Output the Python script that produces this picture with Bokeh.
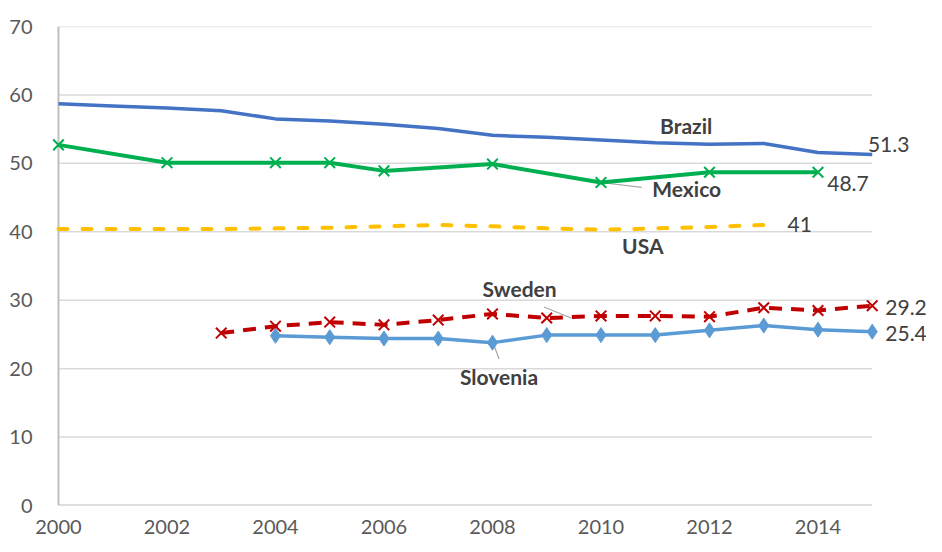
from bokeh.plotting import figure
from bokeh.models import Range1d, FixedTicker, Label
from bokeh.embed import file_html
from bokeh.resources import INLINE

# ---- data ----
brazil_years = list(range(2000, 2016))
brazil = [58.7, 58.4, 58.1, 57.7, 56.5, 56.2, 55.7, 55.1, 54.1, 53.8, 53.4, 53.0, 52.8, 52.9, 51.6, 51.3]

mexico_years = [2000, 2002, 2004, 2005, 2006, 2008, 2010, 2012, 2014]
mexico = [52.7, 50.1, 50.1, 50.1, 48.9, 49.9, 47.2, 48.7, 48.7]

usa_years = list(range(2000, 2014))
usa = [40.4, 40.4, 40.4, 40.4, 40.5, 40.6, 40.8, 41.0, 40.8, 40.5, 40.3, 40.5, 40.7, 41.0]

sweden_years = list(range(2003, 2016))
sweden = [25.2, 26.2, 26.8, 26.4, 27.1, 28.0, 27.4, 27.7, 27.7, 27.6, 28.9, 28.5, 29.2]

slovenia_years = list(range(2004, 2016))
slovenia = [24.8, 24.6, 24.4, 24.4, 23.8, 24.9, 24.9, 24.9, 25.6, 26.3, 25.7, 25.4]

x_ticks = [2000, 2002, 2004, 2006, 2008, 2010, 2012, 2014]
y_ticks = [0, 10, 20, 30, 40, 50, 60, 70]
x_first, x_last = 2000, 2015

# series name labels (x year, y value)
name_labels = ["Brazil", "Mexico", "USA", "Sweden", "Slovenia"]
name_x = [2011.57, 2011.58, 2010.77, 2008.5, 2008.12]
name_y = [55.5, 46.3, 38.0, 31.7, 18.9]

# value labels
value_labels = ["51.3", "48.7", "41", "29.2", "25.4"]
value_x = [2014.92, 2014.17, 2013.44, 2015.24, 2015.24]
value_y = [52.8, 47.1, 41.0, 28.9, 25.2]

# leader lines (from point to label)
lead_x0 = [2010.0, 2008.95, 2008.02]
lead_y0 = [47.2, 29.0, 23.6]
lead_x1 = [2010.75, 2009.45, 2008.12]
lead_y1 = [46.5, 27.4, 21.4]

p = figure(width=926, height=536, output_backend="svg", toolbar_location=None,
           x_range=Range1d(1999.853, 2016.0), y_range=Range1d(0, 70),
           min_border_left=50, min_border_right=0, min_border_top=26, min_border_bottom=30)
p.outline_line_color = None
p.background_fill_color = "white"
p.border_fill_color = "white"

p.xgrid.grid_line_color = None
p.ygrid.grid_line_color = None

p.xaxis.ticker = FixedTicker(ticks=x_ticks)
p.yaxis.ticker = FixedTicker(ticks=y_ticks)
for ax in (p.xaxis, p.yaxis):
    ax.major_tick_line_color = None
    ax.minor_tick_line_color = None
    ax.axis_line_color = None
    ax.major_label_text_font = "Lato"
    ax.major_label_text_font_size = "20px"
    ax.major_label_text_color = "#595959"
p.xaxis.major_label_standoff = 8
p.yaxis.major_label_standoff = 12

# gridlines and axis lines spanning the data extent
p.segment(x0=x_first, x1=x_last, y0=y_ticks[1:], y1=y_ticks[1:], line_color="#d9d9d9", line_width=1.5)
p.segment(x0=[x_first, x_first], x1=[x_last, x_first], y0=[0, 0], y1=[0, y_ticks[-1]],
          line_color="#bfbfbf", line_width=2)

# leader lines
p.segment(x0=lead_x0, y0=lead_y0, x1=lead_x1, y1=lead_y1, line_color="#a6a6a6", line_width=1.2)

# series
p.line(usa_years, usa, line_color="#ffc000", line_width=4, line_dash="9 15", line_cap="round")
p.line(brazil_years, brazil, line_color="#4472c4", line_width=3.5)
p.line(mexico_years, mexico, line_color="#00b050", line_width=4)
p.scatter(mexico_years, mexico, marker="x", size=15, line_color="#00b050", line_width=2)
p.line(slovenia_years, slovenia, line_color="#5b9bd5", line_width=3.5)
p.scatter(slovenia_years, slovenia, marker="diamond", size=15, fill_color="#5b9bd5", line_color="#5b9bd5")
p.line(sweden_years, sweden, line_color="#c00000", line_width=4, line_dash="13 9")
p.scatter(sweden_years, sweden, marker="x", size=15, line_color="#c00000", line_width=2)

for t, x, y in zip(name_labels, name_x, name_y):
    p.add_layout(Label(x=x, y=y, text=t, text_align="center", text_baseline="middle",
                       text_font="Lato", text_font_style="bold", text_font_size="21px",
                       text_color="#404040"))
for t, x, y in zip(value_labels, value_x, value_y):
    p.add_layout(Label(x=x, y=y, text=t, text_align="left", text_baseline="middle",
                       text_font="Lato", text_font_size="21px", text_color="#404040"))

open("out.html", "w").write(file_html(p, INLINE))
